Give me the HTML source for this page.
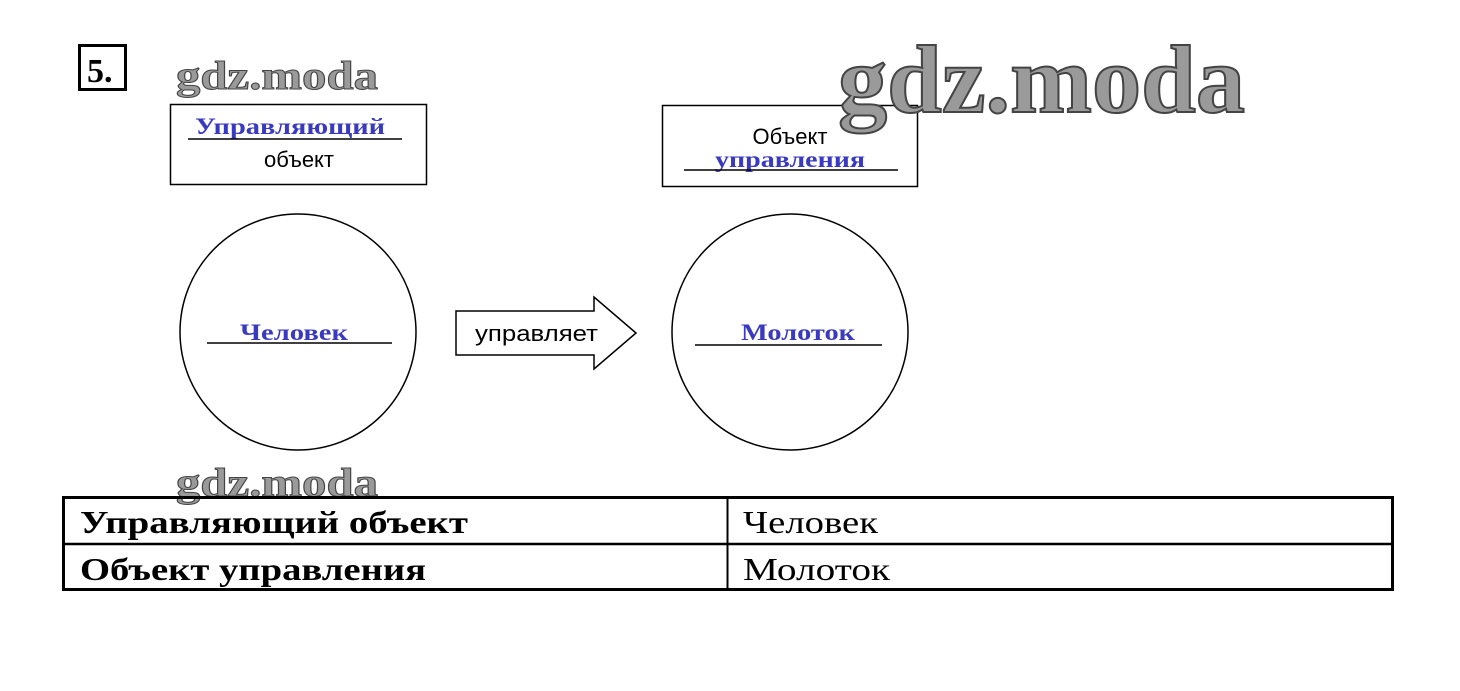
<!DOCTYPE html>
<html><head><meta charset="utf-8"><style>
html,body{margin:0;padding:0;background:#fff;width:1460px;height:691px;overflow:hidden}
svg{display:block}
</style></head><body>
<svg width="1460" height="691" viewBox="0 0 1460 691" xmlns="http://www.w3.org/2000/svg">
<rect width="1460" height="691" fill="#fff"/>
<rect x="79.5" y="45.5" width="46" height="44" fill="none" stroke="#000" stroke-width="3"/>
<text x="87" y="82" font-family="Liberation Serif, serif" font-weight="bold" font-size="34" fill="#000">5.</text>
<!-- box 1 -->
<rect x="170.5" y="104.5" width="256" height="80" fill="none" stroke="#000" stroke-width="1.5"/>
<text x="195" y="134" font-family="Liberation Serif, serif" font-weight="bold" font-size="23" fill="#3a3ac0" textLength="190" lengthAdjust="spacingAndGlyphs">Управляющий</text>
<line x1="188" y1="139" x2="402" y2="139" stroke="#000" stroke-width="1.5"/>
<text x="299" y="167" text-anchor="middle" font-family="Liberation Sans, sans-serif" font-size="22" fill="#000">объект</text>
<!-- box 2 -->
<rect x="662.5" y="105.5" width="255" height="81" fill="none" stroke="#000" stroke-width="1.5"/>
<text x="790" y="144" text-anchor="middle" font-family="Liberation Sans, sans-serif" font-size="22" fill="#000">Объект</text>
<text x="715" y="167" font-family="Liberation Serif, serif" font-weight="bold" font-size="23" fill="#3a3ac0" textLength="150" lengthAdjust="spacingAndGlyphs">управления</text>
<line x1="684" y1="170" x2="898" y2="170" stroke="#000" stroke-width="1.5"/>
<!-- watermarks -->
<g font-family="Liberation Serif, serif" font-weight="bold" fill="#9a9a9a" stroke="#444" stroke-width="1">
<text x="176" y="89" font-size="40" textLength="202" lengthAdjust="spacingAndGlyphs">gdz.moda</text>
<text x="176" y="496" font-size="40" textLength="202" lengthAdjust="spacingAndGlyphs">gdz.moda</text>
<text x="838" y="112" font-size="96" stroke-width="2" textLength="407" lengthAdjust="spacingAndGlyphs">gdz.moda</text>
</g>
<!-- circles -->
<circle cx="298" cy="332" r="118" fill="none" stroke="#000" stroke-width="1.5"/>
<circle cx="790" cy="332" r="118" fill="none" stroke="#000" stroke-width="1.5"/>
<text x="240" y="340" font-family="Liberation Serif, serif" font-weight="bold" font-size="23" fill="#3a3ac0" textLength="108" lengthAdjust="spacingAndGlyphs">Человек</text>
<line x1="207" y1="343" x2="392" y2="343" stroke="#000" stroke-width="1.5"/>
<text x="741" y="340" font-family="Liberation Serif, serif" font-weight="bold" font-size="23" fill="#3a3ac0" textLength="114" lengthAdjust="spacingAndGlyphs">Молоток</text>
<line x1="695" y1="345" x2="882" y2="345" stroke="#000" stroke-width="1.5"/>
<!-- arrow -->
<polygon points="456,311 594,311 594,297 636,333 594,369 594,355 456,355" fill="#fff" stroke="#000" stroke-width="1.5"/>
<text x="475" y="341" font-family="Liberation Sans, sans-serif" font-size="22" fill="#000" textLength="123" lengthAdjust="spacingAndGlyphs">управляет</text>
<!-- table -->
<rect x="63.5" y="497.5" width="1329" height="92" fill="none" stroke="#000" stroke-width="3"/>
<line x1="63" y1="544" x2="1393" y2="544" stroke="#000" stroke-width="2.5"/>
<line x1="727.5" y1="497" x2="727.5" y2="590" stroke="#000" stroke-width="2"/>
<g font-family="Liberation Serif, serif" font-size="32" fill="#000">
<text x="80" y="533" font-weight="bold" textLength="388" lengthAdjust="spacingAndGlyphs">Управляющий объект</text>
<text x="80" y="580" font-weight="bold" textLength="346" lengthAdjust="spacingAndGlyphs">Объект управления</text>
<text x="743" y="533" textLength="135" lengthAdjust="spacingAndGlyphs">Человек</text>
<text x="743" y="580" textLength="147" lengthAdjust="spacingAndGlyphs">Молоток</text>
</g>
</svg>
</body></html>
